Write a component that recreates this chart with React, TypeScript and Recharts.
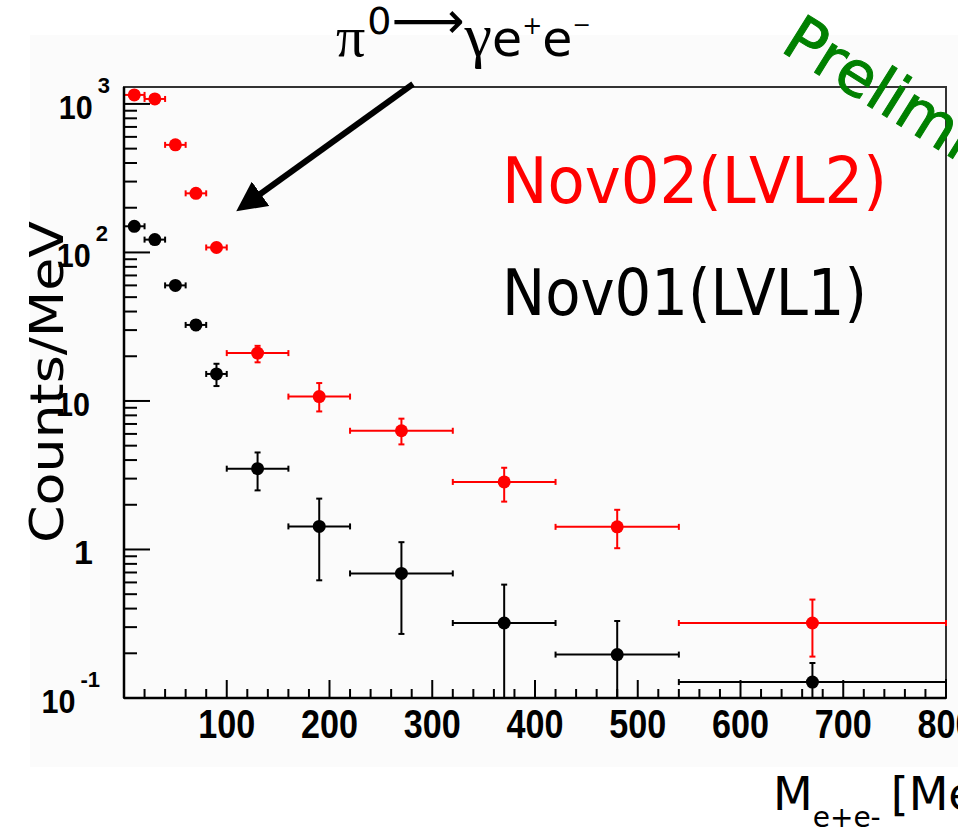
import React from "react";
import {
  ErrorBar,
  ReferenceArea,
  Scatter,
  ScatterChart,
  XAxis,
  YAxis,
} from "recharts";

// mass bins [MeV]
const binCenter = [10, 30, 50, 70, 90, 130, 190, 270, 370, 480, 670];
const binLow = [0, 20, 40, 60, 80, 100, 160, 220, 320, 420, 540];
const binHigh = [20, 40, 60, 80, 100, 160, 220, 320, 420, 540, 800];

// Nov02 (LVL2) counts/MeV with error band
const nov02 = [1150, 1080, 530, 250, 108, 21, 10.7, 6.3, 2.85, 1.42, 0.32];
const nov02Low = [1100, 1030, 505, 238, 102, 18.2, 8.5, 5.1, 2.1, 1.02, 0.19];
const nov02High = [1200, 1130, 555, 262, 114, 23.5, 13.2, 7.6, 3.55, 1.85, 0.46];

// Nov01 (LVL1)
const nov01 = [150, 122, 60, 32.5, 15.2, 3.5, 1.43, 0.69, 0.32, 0.196, 0.128];
const nov01Low = [143, 116, 56.5, 30, 12.6, 2.5, 0.62, 0.27, 0.1, 0.1, 0.1];
const nov01High = [157, 128, 63.5, 35, 17.8, 4.5, 2.2, 1.12, 0.58, 0.33, 0.172];

const yMajor = [0.1, 1, 10, 100, 1000];
const yBase = ["10", "1", "10", "10", "10"];
const yExp = ["-1", "", "", "2", "3"];
const yMinorMult = [2, 3, 4, 5, 6, 7, 8, 9];

const xMajor = [100, 200, 300, 400, 500, 600, 700, 800];
const xMinorStep = 20;

const Y_DOMAIN: [number, number] = [0.1, 1300];
const X_DOMAIN: [number, number] = [0, 800];

const yTicks = [
  ...yMajor,
  ...yMajor.slice(0, 4).flatMap((d) => yMinorMult.map((m) => +(d * m).toPrecision(3))),
].sort((a, b) => a - b);

const xTicks: number[] = [];
for (let v = xMinorStep; v <= X_DOMAIN[1]; v += xMinorStep) xTicks.push(v);

const toPoints = (vals: number[], lo: number[], hi: number[]) =>
  vals.map((v, i) => ({
    x: binCenter[i],
    y: v,
    xErr: [binCenter[i] - binLow[i], binHigh[i] - binCenter[i]],
    yErr: [v - lo[i], hi[i] - v],
  }));

const red = toPoints(nov02, nov02Low, nov02High);
const black = toPoints(nov01, nov01Low, nov01High);

const tickFont = "'Liberation Sans', Arial, sans-serif";
const handFont = "'DejaVu Sans', 'Noto Sans', sans-serif";
const serifFont = "'Liberation Serif', 'DejaVu Serif', serif";

function YTick(props: any) {
  const { x, y, payload } = props;
  const v = payload.value;
  const idx = yMajor.indexOf(v);
  const major = idx >= 0;
  const endOffset = [24, 31, 34, 16, 14];
  return (
    <g>
      <line x1={x} x2={x + (major ? 26 : 13)} y1={y} y2={y} stroke="#000" strokeWidth={2} />
      {major && (
        <text
          x={x - endOffset[idx]}
          y={y + 3}
          textAnchor="end"
          dominantBaseline="central"
          fontFamily={tickFont}
          fontWeight="bold"
          fontSize={34}
          fill="#000"
        >
          <tspan
            textLength={yBase[idx].length === 2 ? 34 : undefined}
            lengthAdjust="spacingAndGlyphs"
          >
            {yBase[idx]}
          </tspan>
          {yExp[idx] && (
            <tspan dx={5} dy={-22} fontSize={22}>
              {yExp[idx]}
            </tspan>
          )}
        </text>
      )}
    </g>
  );
}

function XTick(props: any) {
  const { x, y, payload } = props;
  const v = payload.value;
  const major = xMajor.includes(v);
  return (
    <g>
      <line x1={x} x2={x} y1={y} y2={y - (major ? 18 : 9)} stroke="#000" strokeWidth={2} />
      {major && (
        <text
          x={x}
          y={y + 26}
          textAnchor="middle"
          dominantBaseline="central"
          fontFamily={tickFont}
          fontWeight="bold"
          fontSize={40}
          textLength={57}
          lengthAdjust="spacingAndGlyphs"
          fill="#000"
        >
          {v}
        </text>
      )}
    </g>
  );
}

const dot = (color: string) => (p: any) => <circle cx={p.cx} cy={p.cy} r={6.5} fill={color} />;

export default function App() {
  return (
    <div
      style={{
        position: "absolute",
        left: 0,
        top: 0,
        width: 958,
        height: 831,
        background: "#fff",
        overflow: "hidden",
      }}
    >
      <div style={{ position: "absolute", left: 30, top: 35, width: 928, height: 732, background: "#fbfbfb" }} />
      <div style={{ position: "absolute", left: 0, top: 0 }}>
        <ScatterChart width={958} height={831} margin={{ top: 87, right: 12, bottom: 0, left: 0 }}>
          <XAxis
            type="number"
            dataKey="x"
            domain={X_DOMAIN}
            allowDataOverflow
            ticks={xTicks}
            interval={0}
            height={133}
            tickSize={0}
            tickMargin={0}
            tickLine={false}
            axisLine={{ stroke: "#000", strokeWidth: 2.5 }}
            tick={XTick}
          />
          <YAxis
            type="number"
            dataKey="y"
            scale="log"
            domain={Y_DOMAIN}
            allowDataOverflow
            ticks={yTicks}
            interval={0}
            width={124}
            tickSize={0}
            tickMargin={0}
            tickLine={false}
            axisLine={{ stroke: "#000", strokeWidth: 2.5 }}
            tick={YTick}
          />
          <ReferenceArea
            x1={X_DOMAIN[0]}
            x2={X_DOMAIN[1]}
            y1={Y_DOMAIN[0]}
            y2={Y_DOMAIN[1]}
            fill="none"
            stroke="#333"
            strokeWidth={2}
            ifOverflow="visible"
          />
          <Scatter data={black} isAnimationActive={false} shape={dot("#000")}>
            <ErrorBar dataKey="xErr" direction="x" width={3} stroke="#000" strokeWidth={2} />
            <ErrorBar dataKey="yErr" direction="y" width={3} stroke="#000" strokeWidth={2} />
          </Scatter>
          <Scatter data={red} isAnimationActive={false} shape={dot("#ff0000")}>
            <ErrorBar dataKey="xErr" direction="x" width={3} stroke="#ff0000" strokeWidth={2} />
            <ErrorBar dataKey="yErr" direction="y" width={3} stroke="#ff0000" strokeWidth={2} />
          </Scatter>
        </ScatterChart>
      </div>
      <svg
        width={958}
        height={831}
        style={{ position: "absolute", left: 0, top: 0, pointerEvents: "none" }}
      >
        <defs>
          <marker id="head" markerWidth="5" markerHeight="5" refX="3.2" refY="2.5" orient="auto">
            <path d="M0,0 L5,2.5 L0,5 Z" fill="#000" />
          </marker>
        </defs>
        {/* y axis title */}
        <text
          transform="translate(63,382) rotate(-90)"
          textAnchor="middle"
          fontFamily={handFont}
          fontSize={46}
          textLength={322}
          lengthAdjust="spacingAndGlyphs"
          fill="#000"
        >
          Counts/MeV
        </text>
        {/* x axis title */}
        <text x={773} y={810} fontFamily={handFont} fontSize={46} fill="#000">
          M
          <tspan dy={17} fontSize={28}>e+e-</tspan>
          <tspan dy={-17} dx={10}>[MeV]</tspan>
        </text>
        {/* process label */}
        <text x={336} y={56} fill="#000">
          <tspan fontFamily={serifFont} fontSize={58}>π</tspan>
          <tspan dx={2} dy={-22} fontSize={38} fontFamily={handFont}>0</tspan>
          <tspan dy={4} fontFamily={handFont} fontSize={51}>⟶</tspan>
          <tspan dy={18} fontFamily={serifFont} fontSize={62}>γ</tspan>
          <tspan fontFamily={handFont} fontSize={49}>e</tspan>
          <tspan dy={-22} fontSize={24} fontFamily={handFont}>+</tspan>
          <tspan dy={22} fontFamily={handFont} fontSize={49}>e</tspan>
          <tspan dy={-24} fontSize={22} fontFamily={handFont}>−</tspan>
        </text>
        <line x1={413} y1={84} x2={245} y2={205} stroke="#000" strokeWidth={6} markerEnd="url(#head)" />
        {/* legend */}
        <text
          x={502}
          y={203}
          fontFamily={handFont}
          fontSize={64}
          textLength={385}
          lengthAdjust="spacingAndGlyphs"
          fill="#ff0000"
        >
          Nov02(LVL2)
        </text>
        <text
          x={502}
          y={315}
          fontFamily={handFont}
          fontSize={64}
          textLength={365}
          lengthAdjust="spacingAndGlyphs"
          fill="#000"
        >
          Nov01(LVL1)
        </text>
        <text
          transform="translate(779,50) rotate(32)"
          fontFamily={handFont}
          fontSize={62}
          fill="#008000"
          stroke="#008000"
          strokeWidth={1}
        >
          Preliminary
        </text>
      </svg>
    </div>
  );
}
